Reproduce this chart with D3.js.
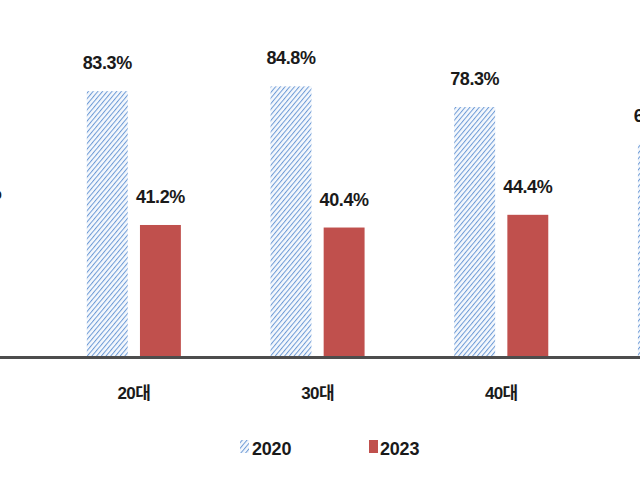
<!DOCTYPE html>
<html>
<head>
<meta charset="utf-8">
<script src="https://cdn.jsdelivr.net/npm/d3@7"></script>
<style>
html,body{margin:0;padding:0;background:#fff;}
svg{display:block;}
text{font-family:"Liberation Sans","Noto Sans CJK KR",sans-serif;fill:#1a1a1a;}
</style>
</head>
<body>
<svg id="chart" width="640" height="480"></svg>
<script>
const categories = ["10대", "20대", "30대", "40대", "50대"];
const seriesNames = ["2020", "2023"];
const values2020 = [null, 83.3, 84.8, 78.3, 66.7];
const values2023 = [42.5, 41.2, 40.4, 44.4, null];

const svg = d3.select("#chart");
const W = 640, H = 480;

const defs = svg.append("defs");
const pat = defs.append("pattern")
  .attr("id", "hatch")
  .attr("patternUnits", "userSpaceOnUse")
  .attr("width", 3.6).attr("height", 3.6)
  .attr("patternTransform", "rotate(40)");
pat.append("rect").attr("width", 3.6).attr("height", 3.6).attr("fill", "#f4f8fd");
pat.append("line").attr("x1", 0).attr("y1", 0).attr("x2", 0).attr("y2", 3.6)
  .attr("stroke", "#6e9bd6").attr("stroke-width", 2);

const x = d3.scaleBand().domain(categories)
  .range([-141.7, 776.8]).paddingInner(0.488).paddingOuter(0.244);
const xs = d3.scaleBand().domain(seriesNames)
  .range([0, x.bandwidth()]).paddingInner(0.23);
const y = d3.scaleLinear().domain([0, 100]).range([356, 38]);

const data = [];
categories.forEach((c, i) => {
  data.push({cat: c, s: "2020", v: values2020[i]});
  data.push({cat: c, s: "2023", v: values2023[i]});
});
const shown = data.filter(d => d.v !== null);

const fillFor = s => s === "2020" ? "url(#hatch)" : "#c0504d";

svg.append("g").selectAll("rect").data(shown).join("rect")
  .attr("x", d => x(d.cat) + xs(d.s))
  .attr("width", xs.bandwidth())
  .attr("y", d => y(d.v))
  .attr("height", d => y(0) - y(d.v))
  .attr("fill", d => fillFor(d.s));

svg.append("g").selectAll("text").data(shown).join("text")
  .attr("x", d => x(d.cat) + xs(d.s) + xs.bandwidth() / 2)
  .attr("y", d => y(d.v) - 22)
  .attr("text-anchor", "middle")
  .attr("font-size", 18)
  .attr("font-weight", "bold")
  .attr("letter-spacing", -0.4)
  .text(d => d.v.toFixed(1) + "%");

// axis baseline
const axis = d3.axisBottom(x).tickSize(0).tickPadding(29);
const ag = svg.append("g").attr("transform", `translate(0,${y(0) + 1.5})`).call(axis);
ag.select(".domain").attr("stroke", "#4d4d4d").attr("stroke-width", 3)
  .attr("d", `M0,0H${W}`);
ag.selectAll(".tick text")
  .attr("font-size", 17)
  .attr("font-weight", "bold")
  .attr("font-family", "'Liberation Sans','Noto Sans CJK KR',sans-serif")
  .attr("fill", "#1a1a1a")
  .attr("letter-spacing", -0.6);

// legend
const legend = svg.append("g");
const legItems = [
  {name: "2020", kx: 240, tx: 252},
  {name: "2023", kx: 369, tx: 380}
];
legItems.forEach(it => {
  legend.append("rect").attr("x", it.kx).attr("y", 440).attr("width", 9).attr("height", 13)
    .attr("fill", fillFor(it.name));
  legend.append("text").attr("x", it.tx).attr("y", 455)
    .attr("font-size", 18).attr("font-weight", "bold").attr("letter-spacing", -0.2)
    .text(it.name);
});
</script>
</body>
</html>
